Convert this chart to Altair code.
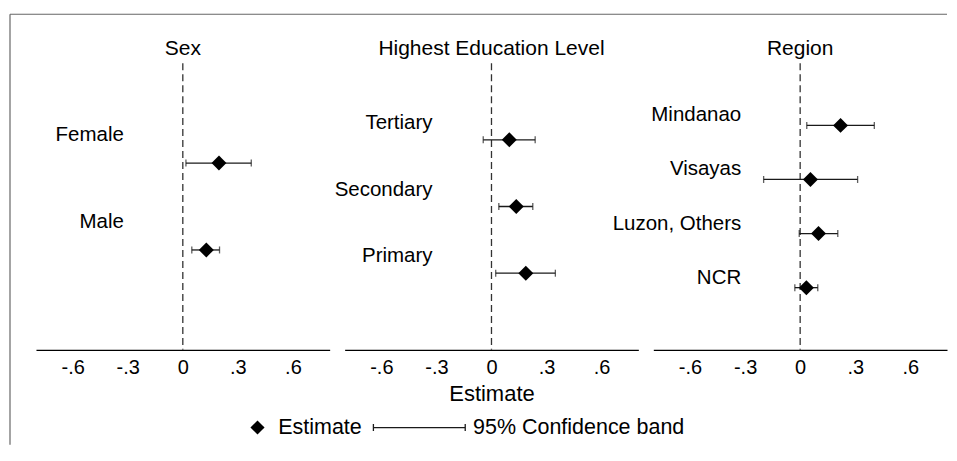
import altair as alt
import pandas as pd

FONT = "Liberation Sans"

panel_titles = ["Sex", "Highest Education Level", "Region"]

sex_labels = ["Female", "Male"]
sex_est = [0.197, 0.128]
sex_lo = [0.017, 0.049]
sex_hi = [0.373, 0.200]

edu_labels = ["Tertiary", "Secondary", "Primary"]
edu_est = [0.097, 0.135, 0.187]
edu_lo = [-0.045, 0.040, 0.023]
edu_hi = [0.238, 0.225, 0.348]

reg_labels = ["Mindanao", "Visayas", "Luzon, Others", "NCR"]
reg_est = [0.220, 0.056, 0.100, 0.034]
reg_lo = [0.036, -0.199, -0.005, -0.029]
reg_hi = [0.404, 0.313, 0.205, 0.096]

tick_values = [-0.6, -0.3, 0, 0.3, 0.6]
x_domain = [-0.8, 0.8]

legend_estimate = "Estimate"
legend_band = "95% Confidence band"
x_title = "Estimate"

W, H, GAP = 294, 287, 15
INK = "#1a1a1a"

LABEL_EXPR = ("datum.value == 0 ? '0' : (datum.value < 0 ? '-' : '') + "
              "replace(format(abs(datum.value), '.1f'), '0.', '.')")

est_legend = alt.Legend(
    title=None, orient="none", legendX=211, legendY=354, padding=0,
    symbolSize=200, symbolFillColor="black", symbolStrokeWidth=0,
    labelOffset=10, labelFont=FONT, labelFontSize=21.5, labelColor="black",
    labelLimit=400,
)
band_legend = alt.Legend(
    title=None, orient="none", legendX=373, legendY=354, padding=0,
    symbolType="M-8,0L8,0M-8,-0.6L-8,0.6M8,-0.6L8,0.6", symbolSize=132,
    symbolStrokeColor=INK, symbolStrokeWidth=1.3,
    labelOffset=43, labelFont=FONT, labelFontSize=21.5, labelColor="black",
    labelLimit=400,
)


def panel(title, labels, est, lo, hi, label_dy, show_title=False, border=False):
    n = len(labels)
    df = pd.DataFrame({"label": labels, "est": est, "lo": lo, "hi": hi,
                       "pos": list(range(1, n + 1))})
    xscale = alt.Scale(domain=x_domain, nice=False, zero=False)
    yscale = alt.Scale(domain=[-0.15, n + 1.15], reverse=True, nice=False, zero=False)
    xaxis = alt.Axis(
        values=tick_values, labelExpr=LABEL_EXPR, grid=False, ticks=False, tickSize=0,
        domainColor="black", domainWidth=1.3, labelFont=FONT, labelFontSize=20,
        labelColor="black", labelPadding=8, labelFlush=False, labelOverlap=False,
        title=x_title if show_title else None, titleFont=FONT, titleFontSize=22,
        titleFontWeight="normal", titleColor="black", titlePadding=6,
    )
    Y = alt.Y("pos:Q", scale=yscale, axis=None)
    base = alt.Chart(df)

    zero = alt.Chart(pd.DataFrame({"zero": [0]})).mark_rule(
        color="#333", strokeDash=[7, 4], strokeWidth=1.3
    ).encode(x=alt.X("zero:Q", scale=xscale, axis=xaxis))

    ci = base.transform_calculate(band=f"'{legend_band}'").mark_rule(strokeWidth=1.3).encode(
        x=alt.X("lo:Q", scale=xscale, axis=xaxis), x2="hi:Q", y=Y,
        color=alt.Color("band:N", scale=alt.Scale(domain=[legend_band], range=[INK]),
                        legend=band_legend),
    )
    cap_lo = base.mark_tick(orient="vertical", size=7, thickness=1.3, color=INK).encode(
        x=alt.X("lo:Q", scale=xscale, axis=xaxis), y=Y)
    cap_hi = base.mark_tick(orient="vertical", size=7, thickness=1.3, color=INK).encode(
        x=alt.X("hi:Q", scale=xscale, axis=xaxis), y=Y)
    pts = base.transform_calculate(kind=f"'{legend_estimate}'").mark_point(
        filled=True, size=225, opacity=1, color="black"
    ).encode(
        x=alt.X("est:Q", scale=xscale, axis=xaxis), y=Y,
        shape=alt.Shape("kind:N", scale=alt.Scale(domain=[legend_estimate], range=["diamond"]),
                        legend=est_legend),
    )
    txt = base.mark_text(align="right", baseline="middle", dx=-59, dy=label_dy,
                         font=FONT, fontSize=20.5, color="black").encode(
        x=alt.datum(0), y=Y, text="label:N")

    head = alt.Chart(pd.DataFrame({"t": [title]})).mark_text(
        align="center", baseline="alphabetic", font=FONT, fontSize=21, color="black"
    ).encode(x=alt.datum(0), y=alt.value(-8), text="t:N")

    layers = [zero, ci, cap_lo, cap_hi, pts, txt, head]
    if border:
        one = pd.DataFrame({"k": [0]})
        total_w = 3 * W + 2 * GAP
        btop = alt.Chart(one).mark_rule(color="#666", strokeWidth=1.2).encode(
            x=alt.value(-26), x2=alt.value(total_w), y=alt.value(-49))
        bleft = alt.Chart(one).mark_rule(color="#666", strokeWidth=1.2).encode(
            x=alt.value(-26), y=alt.value(-49), y2=alt.value(382))
        layers += [btop, bleft]

    return alt.layer(*layers).properties(width=W, height=H)


p1 = panel(panel_titles[0], sex_labels, sex_est, sex_lo, sex_hi, -28, border=True)
p2 = panel(panel_titles[1], edu_labels, edu_est, edu_lo, edu_hi, -17, show_title=True)
p3 = panel(panel_titles[2], reg_labels, reg_est, reg_lo, reg_hi, -10)

chart = alt.hconcat(p1, p2, p3, spacing=GAP, bounds="flush").resolve_scale(
    x="independent", y="independent", color="shared", shape="shared"
).resolve_legend(color="shared", shape="shared").properties(
    padding={"left": 0, "top": 4, "right": 0, "bottom": 0}
).configure_view(stroke="transparent")

chart.save("out.html", embed_options={"renderer": "svg", "actions": False})
